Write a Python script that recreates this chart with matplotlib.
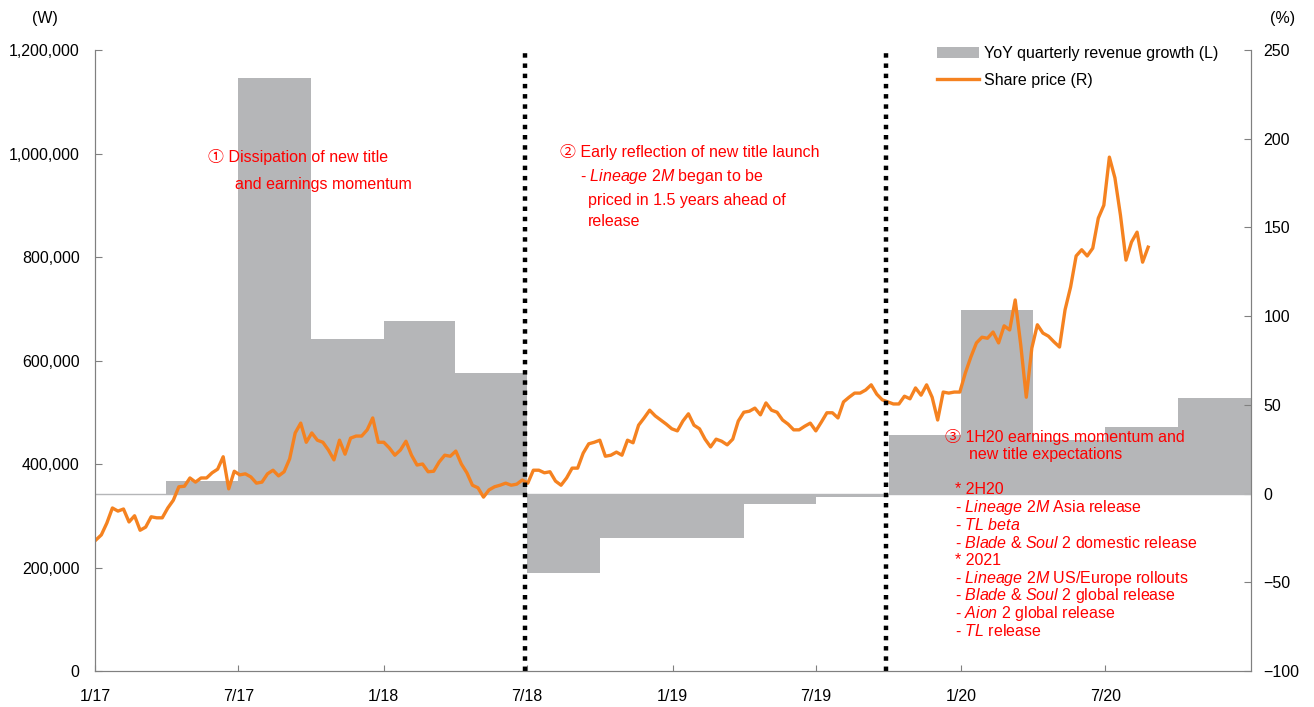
"""Share price vs YoY quarterly revenue growth, 2017-2020 (recreated chart)."""
import numpy as np
import pandas as pd
import matplotlib
matplotlib.use("Agg")
import matplotlib.pyplot as plt
import matplotlib.patches as mpatches
from matplotlib.lines import Line2D
from matplotlib.ticker import FuncFormatter, FixedLocator

plt.rcParams["font.family"] = ["Liberation Sans", "Noto Sans CJK JP", "DejaVu Sans"]
plt.rcParams["mathtext.fontset"] = "custom"
plt.rcParams["mathtext.rm"] = "Liberation Sans"
plt.rcParams["mathtext.it"] = "Liberation Sans:italic"

W, H = 1314, 707
FS = 11.5
RED = "#FF0000"
ORANGE = "#F58220"
GREY = "#B5B6B8"

# weekly share price (W), from first week of Jan 2017
price_start = "2017-01-02"
share_price = [
    253000, 263000, 286000, 315000, 309000, 313000, 288000, 300000, 272000, 278000,
    298000, 296000, 296000, 315000, 330000, 356000, 357000, 373000, 365000, 373000,
    373000, 383000, 390000, 414000, 352000, 386000, 379000, 381000, 375000, 363000,
    365000, 381000, 388000, 377000, 385000, 410000, 460000, 479000, 442000, 460000,
    446000, 442000, 427000, 408000, 446000, 419000, 450000, 454000, 454000, 466000,
    489000, 442000, 442000, 431000, 417000, 427000, 444000, 417000, 398000, 400000,
    385000, 386000, 404000, 417000, 415000, 425000, 400000, 383000, 359000, 354000,
    336000, 350000, 356000, 359000, 363000, 359000, 361000, 369000, 363000, 388000,
    388000, 383000, 385000, 367000, 359000, 373000, 392000, 392000, 421000, 439000,
    442000, 446000, 415000, 417000, 423000, 417000, 446000, 441000, 475000, 489000,
    504000, 493000, 485000, 477000, 468000, 464000, 483000, 497000, 475000, 468000,
    448000, 433000, 448000, 444000, 437000, 448000, 483000, 500000, 502000, 508000,
    495000, 518000, 504000, 500000, 485000, 477000, 466000, 466000, 473000, 479000,
    464000, 481000, 499000, 499000, 489000, 520000, 529000, 537000, 537000, 543000,
    553000, 535000, 524000, 520000, 516000, 516000, 531000, 526000, 547000, 533000,
    553000, 529000, 485000, 539000, 537000, 539000, 539000, 576000, 607000, 634000,
    645000, 643000, 655000, 634000, 667000, 659000, 717000, 630000, 529000, 624000,
    669000, 653000, 647000, 636000, 626000, 698000, 742000, 802000, 814000, 802000,
    817000, 875000, 900000, 993000, 953000, 881000, 794000, 829000, 848000, 790000,
    819000,
]

# YoY quarterly revenue growth (%), 1Q17 .. 4Q20
quarter_starts = pd.date_range("2017-01-01", periods=17, freq="QS")
yoy_growth = [-1, 7, 234, 87, 97.5, 68, -45, -25, -25, -6, -2, 33, 103.5, 30, 37.5, 54]

phase_breaks = ["2018-06-28", "2019-09-28"]
tick_dates = pd.date_range("2017-01-01", "2020-07-01", freq="6MS")
tick_labels = ["1/17", "7/17", "1/18", "7/18", "1/19", "7/19", "1/20", "7/20"]

dates = pd.date_range(price_start, periods=len(share_price), freq="7D")

fig = plt.figure(figsize=(W / 100, H / 100), dpi=100)
ax1 = fig.add_axes([95 / W, 1 - 671 / H, (1251 - 95) / W, (671 - 50) / H])
ax2 = ax1.twinx()
ax1.set_zorder(ax2.get_zorder() + 1)
ax1.patch.set_visible(False)

# growth area (right axis)
g = np.append(yoy_growth, yoy_growth[-1])
ax2.fill_between(quarter_starts, g, 0, step="post", color=GREY, linewidth=0)
ax2.axhline(0, color=GREY, lw=1, xmin=0, xmax=1)
ax2.set_ylim(-100, 250)
ax2.yaxis.set_major_locator(FixedLocator(range(-100, 251, 50)))

# share price (left axis)
ax1.plot(dates, share_price, color=ORANGE, lw=2.4, solid_joinstyle="round")
for d in phase_breaks:
    ax1.axvline(pd.Timestamp(d), color="black", lw=3.2, linestyle=(0, (1, 1.3)))
ax1.set_ylim(0, 1200000)
ax1.yaxis.set_major_locator(FixedLocator(range(0, 1200001, 200000)))
ax1.yaxis.set_major_formatter(FuncFormatter(lambda v, p: f"{int(v):,}"))
ax1.set_xlim(pd.Timestamp("2017-01-01"), pd.Timestamp("2021-01-01"))
ax1.set_xticks(tick_dates)
ax1.set_xticklabels(tick_labels)

for ax in (ax1, ax2):
    for s in ax.spines.values():
        s.set_color("#808080")
    ax.spines["top"].set_visible(False)
ax1.tick_params(axis="y", direction="in", length=5, color="#808080", labelsize=FS, pad=11)
ax2.tick_params(axis="y", direction="in", length=5, color="#808080", labelsize=FS, pad=9)
ax1.tick_params(axis="x", direction="in", length=4, color="#808080", labelsize=FS, pad=13)

fig.text(45 / W, 1 - 18 / H, "(W)", fontsize=FS, ha="center", va="center")
fig.text(1283 / W, 1 - 18 / H, "(%)", fontsize=FS, ha="center", va="center")

handles = [mpatches.Patch(color=GREY, linewidth=0),
           Line2D([], [], color=ORANGE, lw=2.4)]
fig.legend(handles, ["YoY quarterly revenue growth (L)", "Share price (R)"],
           loc="upper left", bbox_to_anchor=(937 / W, 1 - 46 / H), frameon=False,
           fontsize=FS, handlelength=2.6, handletextpad=0.35, labelspacing=0.75,
           borderpad=0, borderaxespad=0)


def note(x, y, s):
    fig.text(x / W, 1 - y / H, s, fontsize=FS, color=RED, ha="left", va="center")


note(208, 157, "① Dissipation of new title")
note(235, 184, "and earnings momentum")
note(560, 152, "② Early reflection of new title launch")
note(580, 176, r"- $\mathit{Lineage\ 2M}$ began to be")
note(588, 200, "priced in 1.5 years ahead of")
note(588, 222, "release")
note(945, 437, "③ 1H20 earnings momentum and")
note(969, 454, "new title expectations")
lines3 = [
    "* 2H20",
    r"- $\mathit{Lineage\ 2M}$ Asia release",
    r"- $\mathit{TL\ beta}$",
    r"- $\mathit{Blade}$ & $\mathit{Soul}$ 2 domestic release",
    "* 2021",
    r"- $\mathit{Lineage\ 2M}$ US/Europe rollouts",
    r"- $\mathit{Blade}$ & $\mathit{Soul}$ 2 global release",
    r"- $\mathit{Aion}$ 2 global release",
    r"- $\mathit{TL}$ release",
]
for i, s in enumerate(lines3):
    note(955, 490 + 17.6 * i, s)

fig.savefig("out.png", dpi=100, facecolor="white")
